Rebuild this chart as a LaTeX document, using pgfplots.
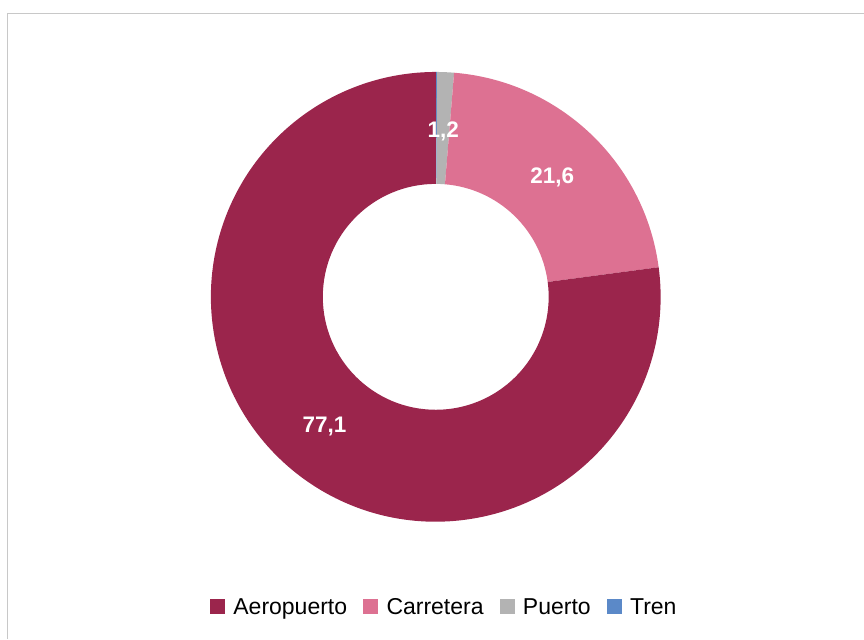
\documentclass[border=0pt]{standalone}
\usepackage{pgfplots}
\pgfplotsset{compat=1.18}
\usepackage{fontspec}
\setmainfont{Liberation Sans}
\usetikzlibrary{calc}
\definecolor{cA}{RGB}{155,37,76}
\definecolor{cB}{RGB}{221,113,146}
\definecolor{cC}{RGB}{179,179,179}
\definecolor{cD}{RGB}{91,137,200}
\definecolor{framec}{RGB}{200,200,200}
% data (per cent)
\def\vTren{0.1}
\def\vPuerto{1.2}
\def\vCarr{21.6}
\def\vAero{77.1}
% angles, clockwise from the top
\pgfmathsetmacro{\aZ}{90}
\pgfmathsetmacro{\aT}{\aZ-3.6*\vTren}
\pgfmathsetmacro{\aP}{\aT-3.6*\vPuerto}
\pgfmathsetmacro{\aC}{\aP-3.6*\vCarr}
\pgfmathsetmacro{\aA}{\aC-3.6*\vAero}
\pgfmathsetmacro{\mP}{(\aT+\aP)/2}
\pgfmathsetmacro{\mC}{(\aP+\aC)/2}
\pgfmathsetmacro{\mA}{(\aC+\aA)/2}
\newcommand{\sector}[3]{%
  \fill[#3] ($(axis cs:436,297)+(#1:225pt)$) arc[start angle=#1,end angle=#2,radius=225pt]
    -- ($(axis cs:436,297)+(#2:113pt)$) arc[start angle=#2,end angle=#1,radius=113pt] -- cycle;}
\begin{document}
\begin{tikzpicture}
\begin{axis}[
  width=864pt, height=639pt, scale only axis,
  xmin=0, xmax=864, ymin=0, ymax=639, y dir=reverse,
  hide axis, clip=false,
  legend columns=4,
  legend style={at={(axis cs:443.5,607.5)}, anchor=center, draw=none, fill=none,
    font=\fontsize{23}{27}\selectfont,
    nodes={inner xsep=0pt, inner ysep=1pt},
    /tikz/every even column/.append style={column sep=16pt}},
]
\path (axis cs:0,0) rectangle (axis cs:864,639);
\draw[framec, line width=1pt] (axis cs:7.5,639) -- (axis cs:7.5,13.5) -- (axis cs:864,13.5);
\sector{\aZ}{\aT}{cD}
\sector{\aT}{\aP}{cC}
\sector{\aP}{\aC}{cB}
\sector{\aC}{\aA}{cA}
\node[white, yshift=-3pt, font=\fontsize{22.5}{27}\selectfont\bfseries] at ($(axis cs:436,297)+(\mP:169pt)$) {1,2};
\node[white, yshift=-3pt, font=\fontsize{22.5}{27}\selectfont\bfseries] at ($(axis cs:436,297)+(\mC:169pt)$) {21,6};
\node[white, yshift=-3pt, font=\fontsize{22.5}{27}\selectfont\bfseries] at ($(axis cs:436,297)+(\mA:169pt)$) {77,1};
\addlegendimage{legend image code/.code={\fill[cA] (0pt,-6.5pt) rectangle (14pt,7.5pt); \path (23pt,0pt);}}
\addlegendentry{Aeropuerto}
\addlegendimage{legend image code/.code={\fill[cB] (0pt,-6.5pt) rectangle (14pt,7.5pt); \path (23pt,0pt);}}
\addlegendentry{Carretera}
\addlegendimage{legend image code/.code={\fill[cC] (0pt,-6.5pt) rectangle (14pt,7.5pt); \path (23pt,0pt);}}
\addlegendentry{Puerto}
\addlegendimage{legend image code/.code={\fill[cD] (0pt,-6.5pt) rectangle (14pt,7.5pt); \path (23pt,0pt);}}
\addlegendentry{Tren}
\end{axis}
\end{tikzpicture}
\end{document}
